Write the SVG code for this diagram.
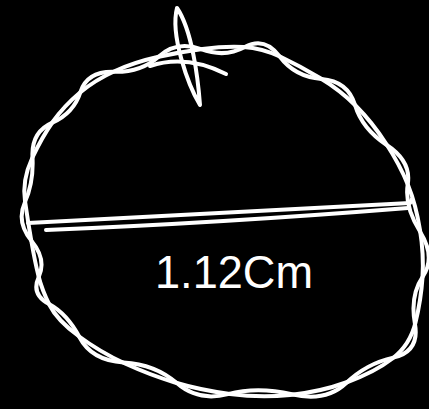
<svg xmlns="http://www.w3.org/2000/svg" width="429" height="409" viewBox="0 0 429 409">
<style>
.ink{fill:none;stroke:#fff;stroke-width:4;stroke-linecap:round;stroke-linejoin:round}
.lbl{fill:#fff;font-family:"Liberation Sans",Arial,sans-serif;font-size:46px}
</style>
<rect x="0" y="0" width="429" height="409" fill="#000"/>
<g id="circle">
<path class="ink" d="M31.5,242 Q28,222 25,201 Q22,180 32,158.5 Q42,137 53,121.5 Q64,106 79.5,93 Q95,80 115,71 Q135,62 157.5,57 Q180,52 202.5,49 Q225,46 243.5,47 Q262,48 281,57 Q300,66 320,78 Q340,90 356,106 Q372,122 386,143.5 Q400,165 408,185 Q416,205 420,230 Q424,255 422.5,277.5 Q421,300 415.5,322.5 Q410,345 392.5,358.5 Q375,372 347.5,382 Q320,392 290,395 Q260,398 230,394 Q200,390 175,382.5 Q150,375 125,363.5 Q100,352 78.5,336 Q57,320 49.5,305 Q42,290 38.5,276 Q35,262 31.5,242 Z"/>
<path class="ink" d="M31.4,240.8 Q16,222 24.9,202.2 Q33.8,182.4 32.5,157.2 Q31.1,132 52.4,122.6 Q73.7,113.1 80.4,92.1 Q87,71.1 114,71.8 Q140.9,72.4 158.9,56.4 Q176.9,40.4 201,49.2 Q225,58 244.8,47.1 Q264.5,36.2 279.7,56.5 Q294.8,76.8 321.4,78.9 Q347.9,81 355,104.9 Q362,128.7 386.7,145 Q411.4,161.3 407.8,183.7 Q404.1,206.1 420,231.5 Q435.9,256.9 422.9,276.3 Q409.8,295.6 414.9,323.6 Q420,351.6 393.3,357.6 Q366.5,363.5 346.2,383 Q325.9,402.4 291.8,394.3 Q257.6,386.2 227.9,394.1 Q198.2,401.9 176.8,383.1 Q155.3,364.2 123.5,362.4 Q91.7,360.6 79.5,337.3 Q67.3,314 49,304.1 Q30.7,294.2 38.8,276.9 Q46.8,259.5 31.4,240.8 Z"/>
</g>
<g id="mark">
<path class="ink" d="M177,8 C170,35 188,85 200,105 C198,78 192,30 177,8 Z"/>
<path class="ink" d="M150,66 Q186,54 226,74"/>
</g>
<g id="diameter">
<path class="ink" d="M28,223 L410,203 L412,199"/>
<path class="ink" d="M46,230 Q220,223 408,208"/>
</g>
<g id="label">
<text class="lbl" x="155" y="288" textLength="158" lengthAdjust="spacingAndGlyphs">1.12Cm</text>
</g>
</svg>
